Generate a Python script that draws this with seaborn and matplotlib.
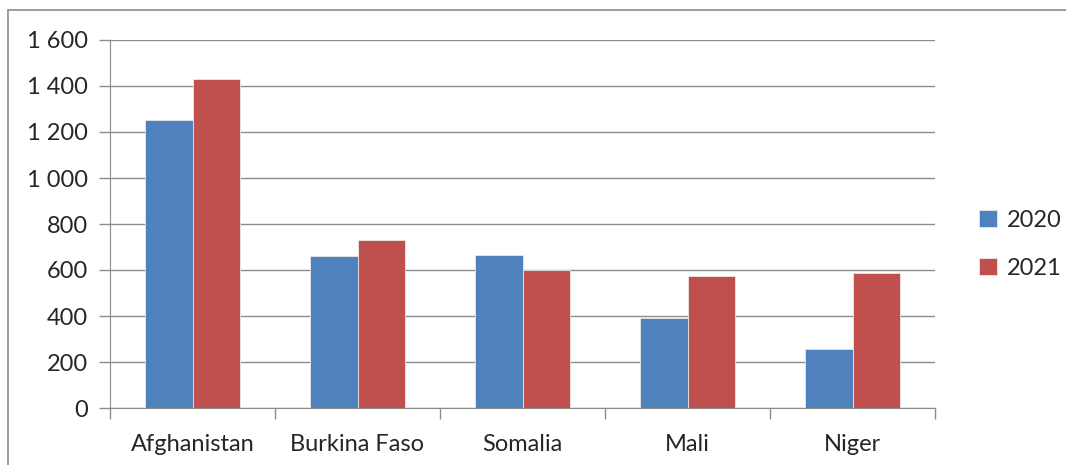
import matplotlib.pyplot as plt
import matplotlib.ticker as mticker
import numpy as np
import pandas as pd
import seaborn as sns
from matplotlib.patches import Rectangle

countries = ["Afghanistan", "Burkina Faso", "Somalia", "Mali", "Niger"]
years = ["2020", "2021"]
values_2020 = [1250, 660, 665, 390, 255]
values_2021 = [1430, 730, 600, 575, 585]
y_ticks = [0, 200, 400, 600, 800, 1000, 1200, 1400, 1600]

df = pd.DataFrame({
    "country": countries * 2,
    "year": [years[0]] * len(countries) + [years[1]] * len(countries),
    "value": values_2020 + values_2021,
})

sns.set_style("white")
plt.rcParams["font.family"] = ["Lato", "DejaVu Sans"]

fig = plt.figure(figsize=(10.66, 4.65), dpi=100)
ax = fig.add_axes([110 / 1066, 1 - 408 / 465, 825 / 1066, 368 / 465])

sns.barplot(
    data=df, x="country", y="value", hue="year",
    palette=["#4F81BD", "#C0504D"], saturation=1, width=0.576, gap=0,
    edgecolor="#e8e8e8", linewidth=0.6, ax=ax, zorder=3,
)

ax.set_xlim(-0.5, len(countries) - 0.5)
ax.set_ylim(0, 1600)
ax.set_yticks(y_ticks)
ax.yaxis.set_major_formatter(
    mticker.FuncFormatter(lambda v, p: f"{int(v):,}".replace(",", " "))
)
ax.grid(axis="y", color="#8c8c8c", linewidth=1, zorder=0)
ax.set_xlabel("")
ax.set_ylabel("")

for s in ["top", "right"]:
    ax.spines[s].set_visible(False)
ax.spines["left"].set_color("#8c8c8c")
ax.spines["bottom"].set_color("#8c8c8c")

ax.tick_params(axis="y", length=8, width=1, color="#8c8c8c", labelsize=17,
               pad=8, left=True)
ax.tick_params(axis="x", length=0, labelsize=17, pad=19)
ax.set_xticks(np.arange(-0.5, len(countries)), minor=True)
ax.tick_params(axis="x", which="minor", length=8, width=1,
               color="#8c8c8c", bottom=True)

ax.legend(
    loc="center left", bbox_to_anchor=(1.028, 0.445), frameon=False,
    fontsize=17, handlelength=0.75, handleheight=0.75, labelspacing=1.15,
    handletextpad=0.4,
)

fig.patches.append(Rectangle(
    (8 / 1066, -0.1), 1.2, 1 - 10 / 465 + 0.1, transform=fig.transFigure,
    fill=False, edgecolor="#8c8c8c", linewidth=1.2,
))

fig.savefig("out.png", dpi=100)
